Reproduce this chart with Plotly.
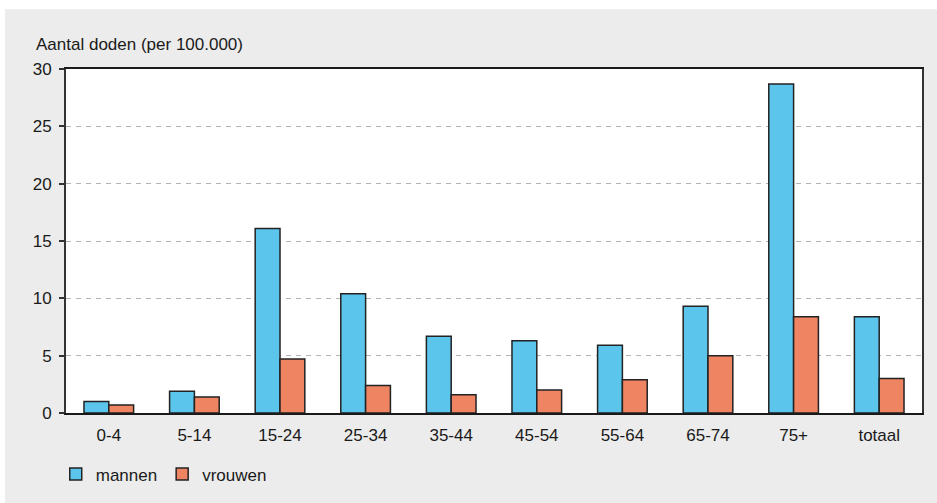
import plotly.graph_objects as go

# leeftijdsgroepen en sterfte per 100.000
leeftijd = ["0-4", "5-14", "15-24", "25-34", "35-44", "45-54", "55-64", "65-74", "75+", "totaal"]
mannen = [1.0, 1.9, 16.1, 10.4, 6.7, 6.3, 5.9, 9.3, 28.7, 8.4]
vrouwen = [0.7, 1.4, 4.7, 2.4, 1.6, 2.0, 2.9, 5.0, 8.4, 3.0]

blauw = "#5bc5ec"
oranje = "#ee8462"
grijs = "#ebeceb"

fig = go.Figure()
fig.add_trace(go.Bar(x = leeftijd, y = mannen, name = "mannen",
    marker = dict(color = blauw, line = dict(color = "#222222", width = 1.5))))
fig.add_trace(go.Bar(x = leeftijd, y = vrouwen, name = "vrouwen",
    marker = dict(color = oranje, line = dict(color = "#222222", width = 1.5))))

fig.update_layout(
    width = 937, height = 503,
    margin = dict(l = 66, r = 15, t = 69, b = 89),
    paper_bgcolor = grijs,
    plot_bgcolor = "white",
    font = dict(family = "Liberation Sans, Arial, sans-serif", size = 17, color = "#1a1a1a"),
    barmode = "group",
    bargap = 0.42,
    bargroupgap = 0,
    legend = dict(orientation = "h", x = -0.012, y = -0.175, xanchor = "left", yanchor = "middle",
        bgcolor = "rgba(0,0,0,0)", font = dict(size = 17), itemwidth = 30, tracegroupgap = 0),
    showlegend = True,
)

fig.update_yaxes(range = [0, 30], dtick = 5, showgrid = True, gridcolor = "#b4b4b4",
    griddash = "5px,5px", gridwidth = 1, zeroline = False,
    showline = True, linecolor = "#333333", linewidth = 2, mirror = True,
    ticks = "outside", ticklen = 5, tickcolor = "#333333", tickwidth = 1.5,
    ticklabelstandoff = 4)
fig.update_xaxes(showline = True, linecolor = "#1a1a1a", linewidth = 2, mirror = True,
    ticks = "", showgrid = False, ticklabelstandoff = 6)

# as-titel
fig.add_annotation(text = "Aantal doden (per 100.000)", xref = "paper", yref = "paper",
    x = -0.037, y = 1.07, xanchor = "left", yanchor = "middle", showarrow = False,
    font = dict(size = 17))

# witte randen boven en links
fig.add_shape(type = "rect", xref = "paper", yref = "paper", x0 = -0.2, x1 = 1.2,
    y0 = 1.174, y1 = 1.4, fillcolor = "white", line = dict(width = 0), layer = "above")
fig.add_shape(type = "rect", xref = "paper", yref = "paper", x0 = -0.2, x1 = -0.0713,
    y0 = -0.4, y1 = 1.4, fillcolor = "white", line = dict(width = 0), layer = "above")

# geen standaard-marge van de pagina, geen knoppenbalk
fig.write_html("out.html", config = {"displayModeBar": False},
    post_script = "document.body.style.margin = '0';")
